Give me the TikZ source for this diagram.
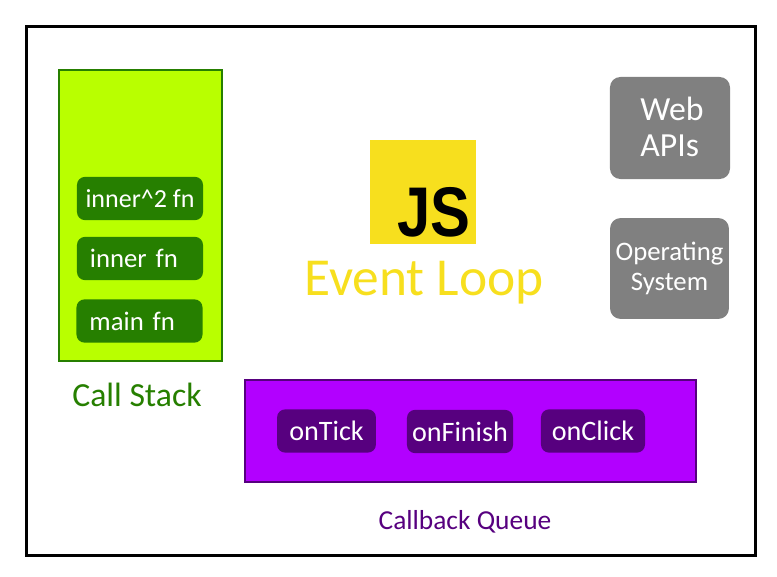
\documentclass[tikz,border=0pt]{standalone}
\usepackage{fontspec}
\setmainfont{Carlito}
\newfontfamily\jsfont{Liberation Sans}
\usepackage{xcolor}
\usepackage{tikz}
\usetikzlibrary{positioning}
\definecolor{stackg}{HTML}{B9FF00}
\definecolor{deepg}{HTML}{267F00}
\definecolor{queuep}{HTML}{B200FF}
\definecolor{deepp}{HTML}{57007F}
\definecolor{greyb}{HTML}{808080}
\definecolor{jsy}{HTML}{F7DF1E}
\tikzset{
  panel/.style={draw,line width=0.05cm,outer sep=0pt,inner sep=0pt},
  box/.style={rounded corners=0.2cm,outer sep=0pt,inner sep=0pt,text=white,font=\fontsize{19}{22}\selectfont},
  stk/.style={box,fill=deepg,minimum height=1.08cm,align=left,text width=2.5cm,inner xsep=0.325cm},
  cb/.style={box,fill=deepp,minimum height=1.08cm,align=center,font=\fontsize{20}{22}\selectfont},
  sys/.style={box,fill=greyb,rounded corners=0.26cm,minimum height=2.55cm,align=center,font=\fontsize{19}{21.5}\selectfont}
}
\begin{document}
\begin{tikzpicture}[x=0.025cm,y=-0.025cm]
\useasboundingbox (0,0) rectangle (777,577);
\node[draw=black,line width=0.075cm,minimum width=18.2cm,minimum height=13.2cm,outer sep=0pt] (frame) at (391,291) {};
% call stack
\node[panel,draw=deepg,fill=stackg,minimum width=4.07cm,minimum height=7.27cm] (stack) at (140.5,215.5) {};
\node[box,fill=deepg,minimum width=3.15cm,minimum height=1.08cm,font=\fontsize{18.5}{22}\selectfont] (inner2) at (140,198.5) {inner\textasciicircum 2 fn};
\node[stk] (inner) at (140,258.5) {inner fn};
\node[stk] (main) at (139.5,321) {main fn};
\node[font=\fontsize{24}{26}\selectfont,text=deepg] (stacklbl) at (137,395) {Call Stack};
% js logo
\node[fill=jsy,minimum width=2.65cm,minimum height=2.6cm,outer sep=0pt] (logo) at (423,192) {};
\node[font=\jsfont\bfseries\fontsize{50}{50}\selectfont,inner sep=0pt,xscale=0.85,transform shape] (js) at (434,212) {JS};
\node[font=\fontsize{38}{40}\selectfont,text=jsy] (loop) at (424,283) {Event Loop};
% system boxes
\node[sys,minimum width=3cm] (web) at (670,128) {};
\node[font=\fontsize{24}{26}\selectfont,text=white,align=left] (webtxt) at (672,127) {Web\\APIs};
\node[sys,minimum width=2.97cm,minimum height=2.52cm] (os) at (669.5,268.5) {Operating\\System};
% callback queue
\node[panel,draw=deepp,fill=queuep,minimum width=11.28cm,minimum height=2.55cm] (queue) at (470.5,431) {};
\node[cb,minimum width=2.47cm] (tick) at (326.5,431) {onTick};
\node[cb,minimum width=2.65cm] (finish) at (460,431.5) {onFinish};
\node[cb,minimum width=2.6cm] (click) at (593,431) {onClick};
\node[font=\fontsize{19.5}{22}\selectfont,text=deepp] (queuelbl) at (465,522) {Callback Queue};
\end{tikzpicture}
\end{document}
